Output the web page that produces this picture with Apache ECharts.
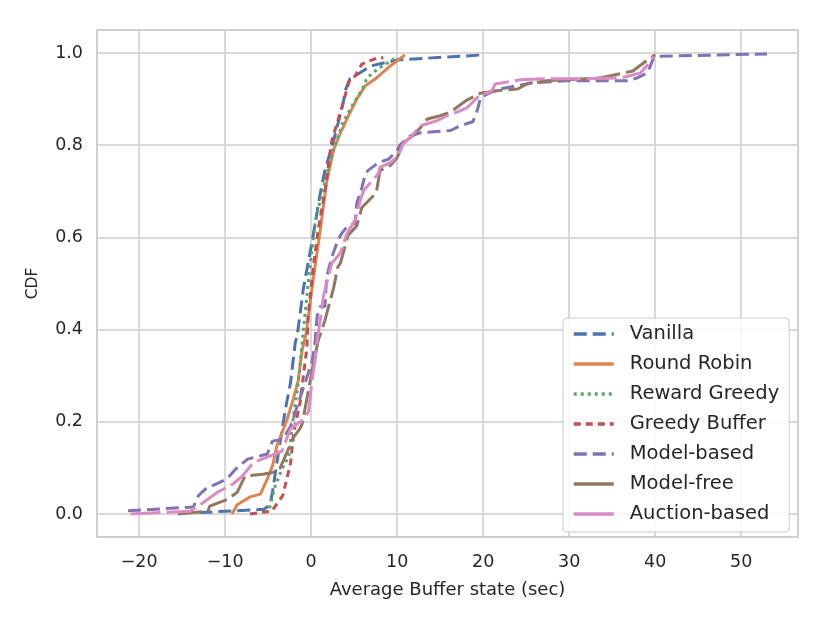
<!DOCTYPE html>
<html>
<head>
<meta charset="utf-8">
<title>CDF of average buffer state</title>
<script src="https://cdn.jsdelivr.net/npm/echarts@6/dist/echarts.min.js"></script>
<style>
  html, body { margin: 0; padding: 0; background: #fff; }
  #chart { width: 830px; height: 623px; }
</style>
</head>
<body>
<div id="chart"></div>
<script>
// [buffer state (sec), CDF]
const vanilla = [[-13, 0.003], [-5.5, 0.01], [-4.8, 0.02], [-4.5, 0.047], [-4, 0.11], [-3.4, 0.18],
  [-3, 0.227], [-2.4, 0.285], [-1.86, 0.37], [-1.6, 0.39], [-0.9, 0.49], [0.1, 0.59], [1, 0.69],
  [1.6, 0.745], [2.6, 0.81], [3.3, 0.86], [3.7, 0.89], [4.0, 0.92], [4.5, 0.944], [5.5, 0.955],
  [6.9, 0.972], [10, 0.985], [20, 0.996]];
const roundRobin = [[-9.2, 0], [-8.6, 0.02], [-7.1, 0.037], [-5.9, 0.043], [-5.1, 0.076], [-4.5, 0.104],
  [-4, 0.147], [-2.8, 0.205], [-2.1, 0.248], [-1.5, 0.29], [-1.05, 0.356], [-0.6, 0.39], [0.25, 0.51],
  [1.05, 0.615], [1.8, 0.72], [2.6, 0.79], [3.4, 0.827], [4.5, 0.87], [5.3, 0.9], [6.3, 0.929],
  [7.6, 0.946], [9.2, 0.972], [10.9, 0.996]];
const rewardGreedy = [[-5.5, 0.003], [-4.8, 0.015], [-4.2, 0.06], [-3.4, 0.097], [-2.6, 0.125],
  [-2.4, 0.16], [-2.0, 0.22], [-1.6, 0.27], [-1.2, 0.34], [-0.9, 0.4], [-0.35, 0.5], [0.45, 0.63],
  [1.05, 0.68], [2.0, 0.75], [2.6, 0.79], [3.7, 0.85], [4.9, 0.89], [5.9, 0.92], [6.5, 0.946],
  [7.7, 0.965], [9.6, 0.987], [10.1, 0.99]];
const greedyBuffer = [[-7.1, 0], [-5.5, 0.004], [-4.6, 0.006], [-3.3, 0.04], [-2.4, 0.11], [-2.0, 0.18],
  [-1.3, 0.24], [-0.9, 0.3], [-0.5, 0.36], [-0.35, 0.43], [0.25, 0.535], [0.8, 0.615], [1.6, 0.7],
  [2.4, 0.81], [3.0, 0.847], [3.6, 0.885], [4.5, 0.944], [5.1, 0.95], [5.9, 0.976], [7.6, 0.989],
  [8.4, 0.99]];
const modelBased = [[-21.3, 0.007], [-13.7, 0.015], [-13.1, 0.04], [-12.3, 0.054], [-9.8, 0.076],
  [-8.8, 0.097], [-7.4, 0.119], [-5.1, 0.13], [-4.5, 0.158], [-3.3, 0.162], [-2.4, 0.19], [0.1, 0.33],
  [0.4, 0.363], [0.7, 0.43], [1.05, 0.45], [1.6, 0.45], [1.8, 0.514], [2.4, 0.557], [3.1, 0.594],
  [3.6, 0.61], [4.3, 0.626], [5.1, 0.63], [5.3, 0.674], [5.9, 0.708], [6.3, 0.738], [6.6, 0.745],
  [7.8, 0.762], [9.0, 0.77], [10.0, 0.788], [10.3, 0.8], [11.5, 0.82], [12.7, 0.827], [16.2, 0.832],
  [17.3, 0.842], [18.8, 0.851], [19.3, 0.875], [19.7, 0.903], [20.8, 0.914], [22, 0.922],
  [25.5, 0.935], [29.8, 0.94], [36.7, 0.94], [37.9, 0.946], [39.1, 0.957], [39.8, 0.989],
  [40.2, 0.993], [53, 0.998]];
const modelFree = [[-15.5, 0], [-12, 0.006], [-11.8, 0.017], [-9.7, 0.032], [-8.6, 0.047], [-7.7, 0.082],
  [-5.6, 0.086], [-4.5, 0.09], [-3.6, 0.1], [-2.8, 0.134], [-2.1, 0.165], [-1.3, 0.185], [-1.05, 0.195],
  [0.1, 0.31], [0.8, 0.375], [1.6, 0.42], [2.6, 0.49], [3.1, 0.536], [3.4, 0.544], [4.3, 0.605],
  [5.3, 0.625], [5.9, 0.665], [7.2, 0.69], [7.6, 0.7], [8.0, 0.745], [9.2, 0.756], [10.0, 0.773],
  [10.6, 0.803], [11.5, 0.816], [12.7, 0.838], [13.5, 0.857], [15, 0.864], [16.2, 0.872], [18.1, 0.898],
  [19.7, 0.913], [21.6, 0.918], [24, 0.922], [25.1, 0.933], [27.4, 0.94], [33.6, 0.946], [35.9, 0.955],
  [37.4, 0.961], [39.4, 0.989], [40, 0.996]];
const auctionBased = [[-21, 0], [-14.1, 0.006], [-12.9, 0.02], [-10.9, 0.047], [-9.1, 0.065], [-8.0, 0.082],
  [-6.7, 0.112], [-3.4, 0.136], [-2.4, 0.185], [-0.9, 0.205], [-0.3, 0.222], [0.1, 0.29], [0.5, 0.34],
  [0.7, 0.378], [1.05, 0.42], [1.4, 0.47], [1.8, 0.5], [2.4, 0.544], [3.4, 0.566], [4.2, 0.61],
  [5.1, 0.637], [5.7, 0.68], [6.1, 0.702], [7.8, 0.738], [8.0, 0.752], [9.2, 0.762], [10.1, 0.777],
  [10.7, 0.803], [11.9, 0.825], [12.7, 0.842], [14.6, 0.853], [15.8, 0.864], [17.1, 0.873],
  [18.1, 0.881], [19.4, 0.905], [21, 0.918], [21.4, 0.933], [24.3, 0.942], [27, 0.944], [32, 0.944],
  [36, 0.946], [38.3, 0.957], [39.2, 0.976], [39.8, 0.993]];

const seriesNames = ['Vanilla', 'Round Robin', 'Reward Greedy', 'Greedy Buffer',
  'Model-based', 'Model-free', 'Auction-based'];
const seriesData = [vanilla, roundRobin, rewardGreedy, greedyBuffer, modelBased, modelFree, auctionBased];
const colors = ['#4C72B0', '#DD8452', '#55A868', '#C44E52', '#8172B3', '#937860', '#DA8BC3'];
const dashes = [[13, 6], 'solid', [3, 4], [7, 5], [13, 6], [24, 6], [30, 6]];

const textColor = '#262626';
const font = 'DejaVu Sans';
const minus = v => String(v).replace('-', '\u2212');

const chart = echarts.init(document.getElementById('chart'), null, {renderer: 'canvas'});

chart.setOption({
  animation: false,
  grid: {
    left: 97, right: 32, top: 30, bottom: 86,
    show: true, borderColor: '#cccccc', borderWidth: 1.5
  },
  xAxis: {
    type: 'value',
    min: -24.9,
    max: 56.6,
    splitNumber: 8,
    name: 'Average Buffer state (sec)',
    nameLocation: 'middle',
    nameGap: 44,
    nameTextStyle: {color: textColor, fontSize: 18, fontFamily: font},
    axisLine: {show: false},
    axisTick: {show: false},
    axisLabel: {
      color: textColor, fontSize: 17.5, fontFamily: font, margin: 16,
      showMinLabel: false, showMaxLabel: false,
      formatter: v => minus(v)
    },
    splitLine: {lineStyle: {color: '#cccccc', width: 1.5}}
  },
  yAxis: {
    type: 'value',
    min: -0.05,
    max: 1.05,
    splitNumber: 6,
    name: 'CDF',
    nameLocation: 'middle',
    nameGap: 56,
    nameTextStyle: {color: textColor, fontSize: 15.5, fontFamily: font},
    axisLine: {show: false},
    axisTick: {show: false},
    axisLabel: {
      color: textColor, fontSize: 17.5, fontFamily: font, margin: 14,
      showMinLabel: false, showMaxLabel: false,
      formatter: v => v.toFixed(1)
    },
    splitLine: {lineStyle: {color: '#cccccc', width: 1.5}}
  },
  legend: {
    orient: 'vertical',
    left: 563,
    top: 318,
    padding: [6, 10, 8, 9],
    itemWidth: 40,
    itemHeight: 18,
    itemGap: 10,
    backgroundColor: 'rgba(255,255,255,0.85)',
    borderColor: '#cccccc',
    borderWidth: 1,
    borderRadius: 4,
    itemStyle: {opacity: 0},
    textStyle: {color: textColor, fontSize: 19.5, lineHeight: 18, fontFamily: font, padding: [0, 0, 0, 11]},
    data: seriesNames.map((name, i) => ({
      name: name,
      lineStyle: {width: 3.5, type: i >= 5 ? 'solid' : dashes[i]}
    }))
  },
  series: seriesNames.map((name, i) => ({
    name: name,
    type: 'line',
    data: seriesData[i],
    showSymbol: false,
    symbol: 'none',
    color: colors[i],
    lineStyle: {color: colors[i], width: 3, type: dashes[i]}
  }))
});
</script>
</body>
</html>
